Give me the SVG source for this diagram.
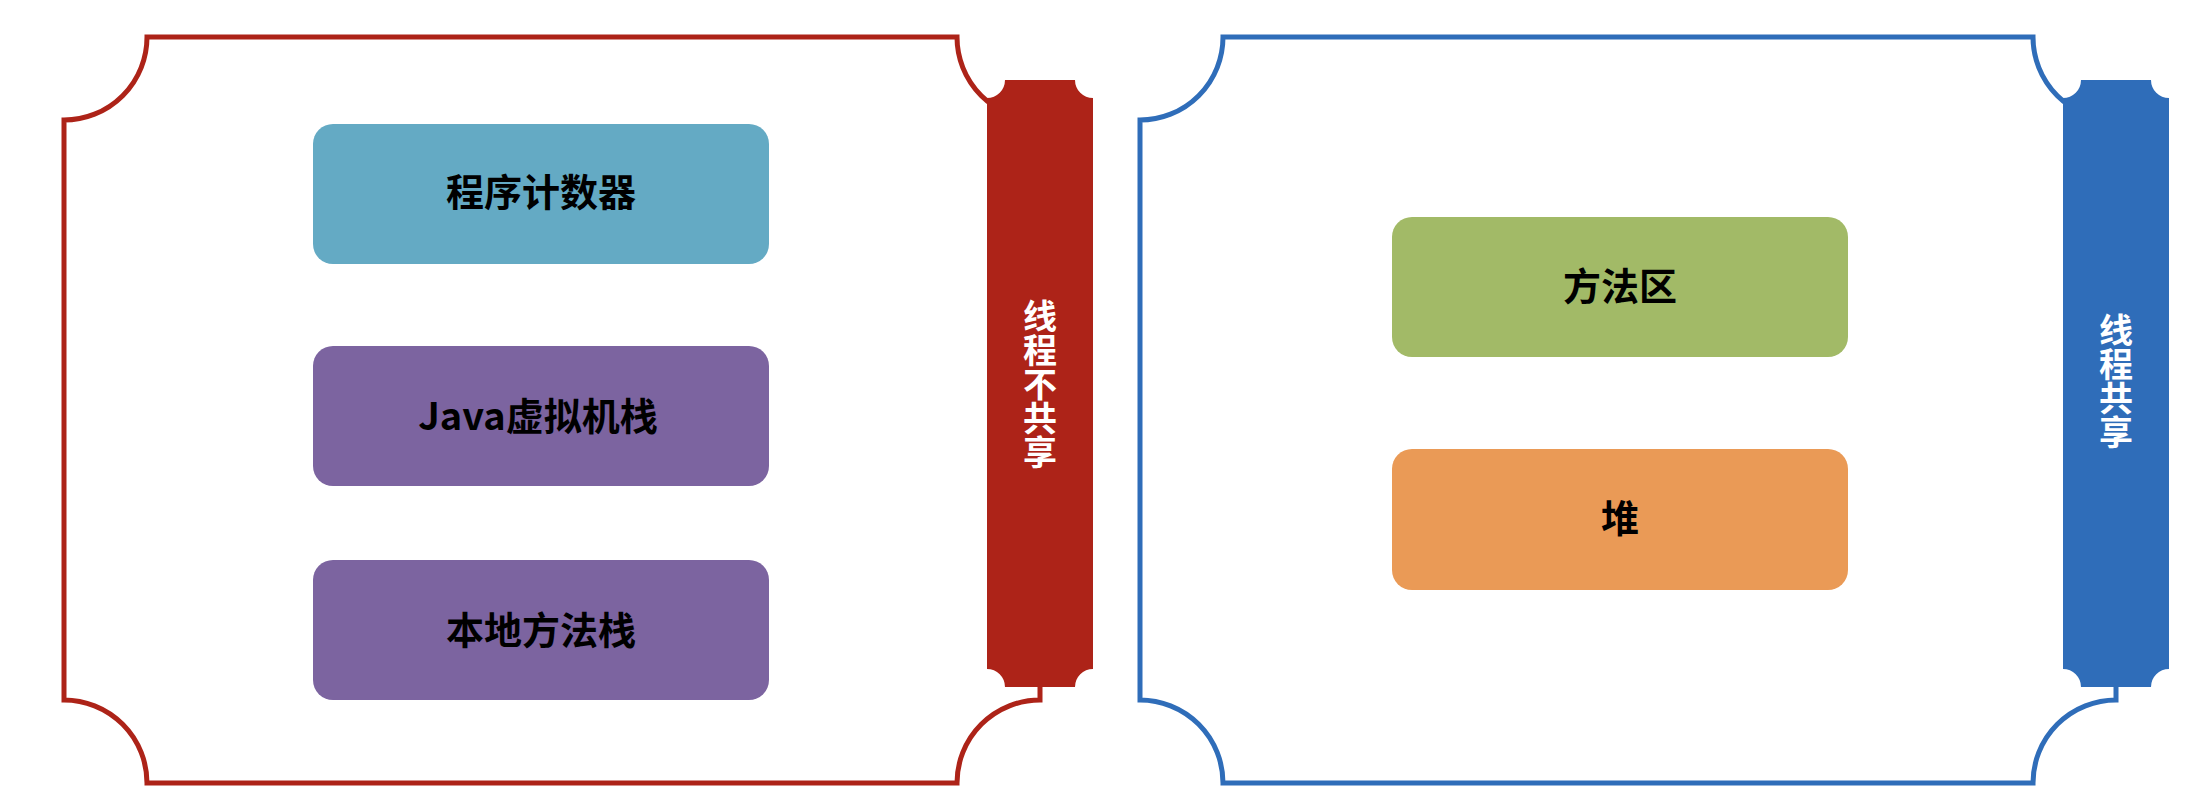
<svg xmlns="http://www.w3.org/2000/svg" width="2188" height="790" viewBox="0 0 2188 790">
<style>
.frame{fill:none;stroke-width:5;stroke-linejoin:miter}
.box{stroke:none}
.lbl{font-family:"Noto Sans CJK SC","Noto Sans",sans-serif;font-weight:bold;font-size:38px;fill:#000;text-anchor:middle;dominant-baseline:central}
.vlbl{font-family:"Noto Sans CJK SC","Noto Sans",sans-serif;font-weight:bold;font-size:34px;fill:#fff;text-anchor:middle;writing-mode:vertical-rl;dominant-baseline:central}
</style>
<rect width="2188" height="790" fill="#fff"/>
<g id="left-group">
  <path class="frame" stroke="#AD2318" d="M64,120 A83,83 0 0 0 147,37 L957,37 A83,83 0 0 0 1040,120 L1040,700 A83,83 0 0 0 957,783 L147,783 A83,83 0 0 0 64,700 Z"/>
  <path fill="#AD2318" d="M1005,80 L1075,80 A18,18 0 0 0 1093,98 L1093,669 A18,18 0 0 0 1075,687 L1005,687 A18,18 0 0 0 987,669 L987,98 A18,18 0 0 0 1005,80 Z"/>
  <text class="vlbl" x="1040" y="384">线程不共享</text>
</g>
<g id="right-group">
  <path class="frame" stroke="#2F6DB9" d="M1140,120 A83,83 0 0 0 1223,37 L2033,37 A83,83 0 0 0 2116,120 L2116,700 A83,83 0 0 0 2033,783 L1223,783 A83,83 0 0 0 1140,700 Z"/>
  <path fill="#2F6DB9" d="M2081,80 L2151,80 A18,18 0 0 0 2169,98 L2169,669 A18,18 0 0 0 2151,687 L2081,687 A18,18 0 0 0 2063,669 L2063,98 A18,18 0 0 0 2081,80 Z"/>
  <text class="vlbl" x="2116" y="381">线程共享</text>
</g>
<g id="pc">
  <rect class="box" x="313" y="124" width="456" height="140" rx="20" fill="#64AAC4"/>
  <text class="lbl" x="541" y="189">程序计数器</text>
</g>
<g id="jvm-stack">
  <rect class="box" x="313" y="346" width="456" height="140" rx="20" fill="#7C64A0"/>
  <text class="lbl" x="538" y="413">Java虚拟机栈</text>
</g>
<g id="native-stack">
  <rect class="box" x="313" y="560" width="456" height="140" rx="20" fill="#7C64A0"/>
  <text class="lbl" x="541" y="627">本地方法栈</text>
</g>
<g id="method-area">
  <rect class="box" x="1392" y="217" width="456" height="140" rx="20" fill="#A2BA67"/>
  <text class="lbl" x="1620" y="283">方法区</text>
</g>
<g id="heap">
  <rect class="box" x="1392" y="449" width="456" height="141" rx="20" fill="#EA9A56"/>
  <text class="lbl" x="1620" y="515">堆</text>
</g>
<g id="connectors"></g>
</svg>
